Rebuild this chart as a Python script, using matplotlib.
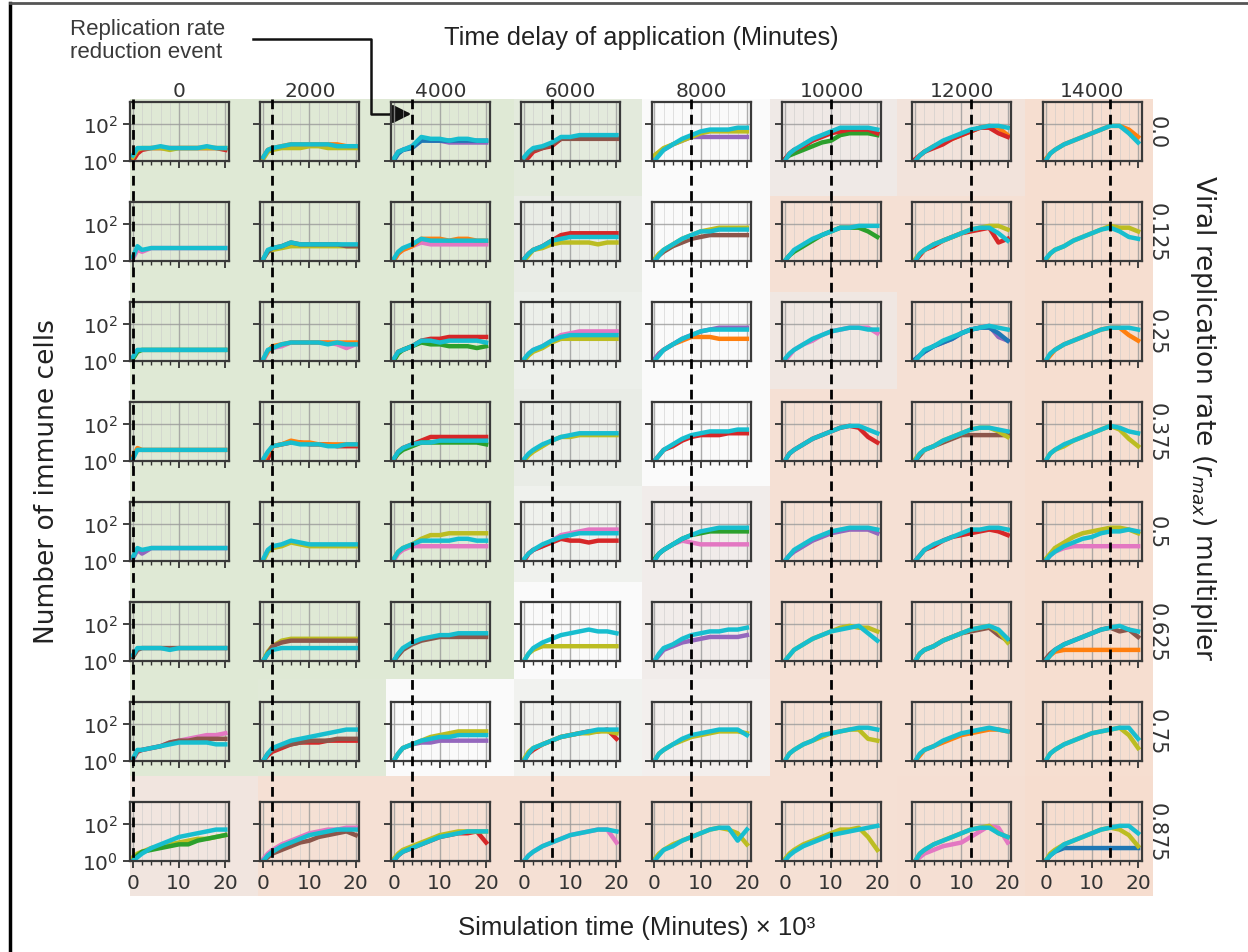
import numpy as np
import matplotlib.pyplot as plt
import matplotlib.transforms as mtransforms
from matplotlib.colors import LinearSegmentedColormap
from matplotlib.lines import Line2D
from matplotlib.ticker import NullLocator, MultipleLocator

W, H = 1248, 953  # figure size in pixels

delays = [0, 2000, 4000, 6000, 8000, 10000, 12000, 14000]
multipliers = ['0.0', '0.125', '0.25', '0.375', '0.5', '0.625', '0.75', '0.875']
time_k = [0, 1, 2, 4, 6, 8, 10, 12, 14, 16, 18, 20]  # minutes x 10^3

# background shade of each cell: 0 = green, 0.5 = white, 1 = orange
bg_score = [
    [0.0, 0.0, 0.0, 0.15, 0.5, 0.65, 0.8, 0.95],
    [0.0, 0.0, 0.0, 0.35, 0.5, 0.9, 0.9, 0.95],
    [0.0, 0.0, 0.0, 0.38, 0.5, 0.7, 0.9, 0.95],
    [0.0, 0.0, 0.0, 0.35, 0.5, 0.9, 0.9, 0.95],
    [0.0, 0.0, 0.0, 0.40, 0.62, 0.9, 0.9, 0.95],
    [0.0, 0.0, 0.0, 0.50, 0.62, 0.9, 0.9, 0.95],
    [0.0, 0.05, 0.5, 0.42, 0.6, 0.9, 0.9, 0.95],
    [0.75, 0.9, 0.9, 0.9, 0.9, 0.9, 0.92, 0.97],
]

# runs: (tab10 colour index, log10(immune cells) x 10 at time_k), one list per delay
runs_r0 = [
    [(3, [0, 4, 6, 7, 7, 7, 7, 7, 7, 7, 7, 6]), (8, [2, 6, 7, 7, 7, 6, 7, 7, 7, 7, 7, 7]), (9, [3, 7, 7, 7, 8, 7, 7, 7, 7, 8, 7, 7])],
    [(8, [1, 5, 6, 7, 7, 7, 8, 8, 7, 7, 7, 7]), (1, [2, 6, 7, 8, 9, 9, 9, 9, 9, 9, 8, 8]), (9, [2, 6, 7, 8, 9, 9, 9, 9, 9, 8, 8, 8])],
    [(4, [1, 5, 6, 8, 12, 11, 11, 10, 10, 10, 10, 10]), (0, [0, 4, 6, 7, 11, 11, 11, 11, 11, 11, 11, 11]), (9, [1, 5, 6, 8, 13, 12, 12, 11, 12, 12, 11, 11])],
    [(3, [0, 2, 5, 7, 8, 12, 12, 12, 12, 12, 12, 12]), (5, [1, 4, 6, 7, 9, 12, 12, 12, 12, 12, 12, 12]), (9, [2, 5, 7, 8, 10, 13, 13, 14, 14, 14, 14, 14])],
    [(4, [1, 4, 6, 9, 11, 13, 13, 13, 13, 13, 13, 13]), (8, [3, 5, 7, 9, 11, 13, 15, 16, 16, 16, 16, 16]), (9, [0, 3, 6, 9, 12, 14, 16, 17, 17, 17, 18, 18])],
    [(2, [1, 3, 4, 6, 8, 10, 11, 14, 15, 15, 15, 14]), (3, [1, 4, 6, 8, 11, 13, 15, 16, 17, 17, 17, 15]), (9, [0, 4, 6, 9, 12, 14, 16, 18, 18, 18, 18, 17])],
    [(1, [0, 3, 5, 8, 10, 12, 14, 16, 18, 19, 18, 14]), (3, [1, 3, 5, 7, 9, 12, 14, 16, 18, 18, 15, 13]), (9, [0, 3, 5, 8, 11, 13, 15, 17, 18, 19, 19, 18])],
    [(1, [1, 4, 6, 9, 11, 13, 15, 17, 19, 19, 17, 13]), (9, [0, 4, 6, 9, 11, 13, 15, 17, 19, 19, 15, 10])],
]
runs_r1 = [
    [(6, [1, 6, 5, 7, 7, 7, 7, 7, 7, 7, 7, 7]), (9, [2, 8, 6, 7, 7, 7, 7, 7, 7, 7, 7, 7])],
    [(8, [1, 5, 6, 7, 8, 8, 8, 8, 8, 8, 8, 8]), (5, [1, 5, 7, 8, 10, 9, 9, 9, 9, 9, 8, 8]), (9, [1, 6, 7, 8, 10, 9, 9, 9, 9, 9, 9, 9])],
    [(6, [0, 4, 6, 8, 10, 9, 9, 9, 9, 9, 9, 9]), (1, [0, 4, 6, 8, 12, 12, 12, 11, 12, 12, 11, 11]), (9, [1, 5, 7, 9, 12, 11, 11, 11, 11, 11, 11, 11])],
    [(3, [1, 4, 6, 8, 11, 14, 15, 15, 15, 15, 15, 15]), (8, [0, 3, 6, 7, 9, 10, 10, 10, 10, 9, 10, 10]), (9, [1, 4, 6, 8, 11, 12, 13, 13, 13, 13, 13, 13])],
    [(5, [0, 3, 5, 8, 10, 12, 13, 14, 14, 14, 14, 14]), (8, [1, 4, 6, 9, 12, 14, 16, 17, 18, 18, 18, 18]), (9, [0, 3, 6, 9, 12, 14, 16, 16, 17, 17, 17, 17])],
    [(2, [0, 3, 5, 8, 11, 14, 16, 18, 18, 18, 16, 13]), (9, [0, 3, 6, 9, 12, 14, 16, 18, 18, 19, 19, 19])],
    [(3, [0, 3, 6, 8, 11, 13, 15, 16, 17, 18, 10, 12]), (8, [1, 4, 6, 9, 11, 13, 15, 17, 18, 19, 19, 17]), (9, [0, 4, 6, 9, 11, 13, 15, 17, 18, 18, 15, 11])],
    [(8, [0, 4, 6, 8, 11, 13, 15, 17, 19, 18, 18, 16]), (9, [1, 4, 6, 8, 11, 13, 15, 17, 18, 16, 13, 12])],
]
runs_r2 = [
    [(2, [1, 5, 6, 6, 6, 6, 6, 6, 6, 6, 6, 6]), (9, [2, 6, 6, 6, 6, 6, 6, 6, 6, 6, 6, 6])],
    [(6, [0, 5, 7, 8, 10, 10, 10, 10, 10, 9, 7, 9]), (1, [1, 5, 8, 9, 10, 10, 10, 10, 10, 10, 10, 10]), (9, [1, 6, 7, 9, 10, 10, 10, 10, 9, 10, 9, 9])],
    [(3, [0, 5, 6, 8, 11, 12, 12, 13, 13, 13, 13, 13]), (2, [0, 4, 6, 8, 10, 9, 9, 8, 8, 8, 7, 8]), (9, [1, 5, 6, 8, 11, 11, 10, 11, 11, 11, 11, 10])],
    [(6, [0, 4, 6, 8, 11, 14, 15, 16, 16, 16, 16, 16]), (8, [0, 3, 5, 7, 10, 12, 12, 12, 12, 12, 12, 12]), (9, [1, 4, 6, 8, 11, 13, 14, 14, 14, 14, 14, 14])],
    [(1, [0, 4, 6, 9, 11, 13, 13, 13, 12, 12, 12, 12]), (4, [1, 4, 6, 9, 12, 14, 16, 17, 18, 18, 18, 18]), (9, [0, 3, 6, 9, 12, 14, 16, 17, 17, 17, 17, 17])],
    [(6, [0, 3, 6, 9, 11, 14, 16, 17, 18, 18, 18, 15]), (9, [1, 4, 6, 9, 12, 14, 16, 17, 18, 18, 17, 17])],
    [(4, [0, 3, 5, 8, 10, 12, 15, 17, 18, 19, 13, 11]), (0, [1, 3, 5, 8, 10, 12, 15, 17, 18, 18, 15, 11]), (9, [0, 3, 6, 8, 11, 13, 15, 17, 18, 19, 18, 17])],
    [(1, [0, 3, 6, 9, 11, 13, 15, 17, 18, 18, 14, 11]), (9, [0, 4, 6, 9, 11, 13, 15, 17, 18, 18, 18, 17])],
]
runs_r3 = [
    [(1, [2, 7, 6, 6, 6, 6, 6, 6, 6, 6, 6, 6]), (9, [1, 6, 6, 6, 6, 6, 6, 6, 6, 6, 6, 6])],
    [(3, [0, 1, 8, 9, 10, 10, 9, 9, 9, 8, 8, 8]), (1, [0, 4, 8, 9, 11, 10, 10, 9, 9, 9, 9, 9]), (9, [1, 5, 8, 9, 10, 9, 9, 9, 8, 8, 9, 9])],
    [(3, [0, 5, 7, 9, 11, 13, 13, 13, 13, 13, 13, 13]), (2, [1, 4, 6, 8, 10, 10, 10, 10, 10, 10, 10, 9]), (9, [1, 5, 7, 9, 10, 10, 11, 11, 11, 11, 11, 11])],
    [(8, [0, 3, 5, 8, 11, 13, 13, 14, 14, 14, 14, 14]), (9, [1, 4, 6, 9, 11, 13, 14, 15, 15, 15, 15, 15])],
    [(3, [0, 3, 6, 8, 11, 13, 14, 14, 14, 15, 15, 15]), (9, [0, 3, 6, 9, 12, 14, 15, 16, 16, 16, 17, 17])],
    [(3, [0, 4, 6, 9, 12, 14, 16, 18, 19, 18, 13, 10]), (9, [0, 4, 6, 9, 12, 14, 16, 18, 19, 19, 17, 15])],
    [(5, [0, 3, 6, 8, 10, 12, 14, 14, 14, 14, 14, 14]), (8, [1, 4, 6, 8, 11, 13, 15, 17, 18, 18, 16, 13]), (9, [0, 4, 6, 8, 11, 13, 15, 17, 18, 18, 17, 16])],
    [(8, [0, 4, 6, 8, 11, 13, 15, 17, 19, 17, 12, 8]), (9, [0, 4, 6, 9, 11, 13, 15, 17, 19, 18, 16, 15])],
]
runs_r4 = [
    [(4, [1, 6, 4, 7, 7, 7, 7, 7, 7, 7, 7, 7]), (9, [2, 7, 6, 7, 7, 7, 7, 7, 7, 7, 7, 7])],
    [(8, [0, 5, 7, 8, 10, 9, 8, 8, 8, 8, 8, 8]), (9, [1, 6, 8, 9, 11, 10, 9, 9, 9, 9, 9, 9])],
    [(6, [0, 4, 6, 8, 8, 8, 8, 8, 8, 8, 8, 8]), (8, [1, 5, 7, 9, 12, 14, 14, 15, 15, 15, 15, 15]), (9, [1, 5, 7, 9, 11, 11, 11, 11, 12, 12, 11, 11])],
    [(6, [0, 4, 6, 8, 11, 14, 15, 16, 17, 17, 17, 17]), (3, [0, 4, 6, 8, 10, 12, 11, 11, 10, 11, 11, 11]), (9, [1, 4, 6, 9, 11, 13, 14, 15, 15, 15, 15, 15])],
    [(6, [0, 4, 6, 9, 11, 10, 9, 9, 9, 9, 9, 9]), (2, [1, 4, 6, 9, 12, 14, 15, 16, 16, 16, 16, 16]), (9, [0, 4, 6, 9, 12, 14, 16, 17, 18, 18, 18, 18])],
    [(4, [0, 3, 5, 8, 11, 13, 15, 16, 17, 17, 17, 15]), (9, [0, 3, 6, 9, 12, 14, 16, 17, 18, 18, 18, 17])],
    [(3, [0, 3, 6, 8, 11, 13, 14, 15, 16, 17, 16, 14]), (9, [0, 3, 6, 9, 11, 13, 15, 17, 17, 18, 18, 17])],
    [(6, [0, 3, 5, 7, 8, 8, 8, 8, 8, 8, 8, 8]), (8, [1, 4, 7, 10, 13, 15, 16, 17, 18, 18, 17, 15]), (9, [0, 3, 5, 8, 10, 12, 13, 15, 16, 16, 17, 16])],
]
runs_r5 = [
    [(5, [2, 6, 7, 7, 7, 7, 7, 7, 7, 7, 7, 7]), (9, [3, 7, 7, 7, 7, 6, 7, 7, 7, 7, 7, 7])],
    [(8, [0, 5, 8, 11, 12, 12, 12, 12, 12, 12, 12, 12]), (5, [0, 4, 8, 10, 11, 11, 11, 11, 11, 11, 11, 11]), (9, [0, 4, 6, 7, 7, 7, 7, 7, 7, 7, 7, 7])],
    [(5, [0, 3, 6, 9, 11, 12, 13, 13, 13, 13, 13, 13]), (9, [0, 4, 7, 10, 12, 13, 14, 14, 15, 15, 15, 15])],
    [(8, [0, 4, 6, 8, 8, 8, 8, 8, 8, 8, 8, 8]), (9, [0, 4, 7, 10, 12, 14, 15, 16, 17, 16, 16, 15])],
    [(4, [0, 3, 6, 8, 10, 11, 12, 13, 13, 13, 13, 14]), (9, [0, 4, 7, 9, 12, 14, 15, 16, 16, 17, 17, 18])],
    [(8, [0, 3, 6, 9, 12, 14, 16, 18, 19, 18, 18, 16]), (9, [0, 3, 6, 9, 12, 14, 16, 17, 18, 19, 15, 11])],
    [(5, [0, 4, 6, 8, 11, 13, 15, 16, 17, 18, 14, 11]), (8, [0, 4, 6, 8, 11, 13, 15, 17, 18, 19, 16, 10]), (9, [0, 4, 6, 8, 11, 13, 15, 17, 18, 19, 17, 12])],
    [(1, [0, 3, 5, 6, 6, 6, 6, 6, 6, 6, 6, 6]), (5, [1, 4, 6, 9, 11, 13, 15, 17, 18, 16, 17, 13]), (9, [0, 3, 6, 9, 11, 13, 15, 17, 18, 19, 17, 16])],
]
runs_r6 = [
    [(6, [0, 5, 6, 7, 8, 10, 11, 12, 13, 14, 14, 15]), (5, [1, 5, 6, 7, 8, 10, 11, 11, 12, 12, 12, 12]), (9, [1, 6, 6, 7, 8, 9, 10, 10, 10, 10, 9, 9])],
    [(3, [0, 3, 5, 7, 9, 10, 10, 10, 11, 11, 11, 11]), (5, [0, 4, 6, 8, 9, 10, 11, 11, 11, 12, 12, 12]), (9, [0, 4, 7, 9, 11, 12, 13, 14, 15, 16, 17, 17])],
    [(4, [0, 4, 7, 9, 10, 10, 11, 11, 11, 11, 11, 11]), (8, [0, 4, 7, 9, 11, 13, 14, 15, 16, 16, 16, 16]), (9, [0, 4, 7, 9, 11, 12, 13, 13, 14, 14, 14, 14])],
    [(3, [0, 4, 6, 9, 11, 13, 14, 15, 16, 16, 17, 12]), (8, [1, 5, 7, 9, 11, 13, 14, 15, 15, 16, 16, 15]), (9, [0, 4, 7, 9, 11, 13, 14, 15, 16, 17, 17, 17])],
    [(8, [0, 4, 6, 9, 11, 13, 14, 15, 16, 16, 16, 15]), (9, [0, 4, 6, 9, 12, 14, 15, 16, 17, 17, 17, 14])],
    [(8, [0, 4, 6, 9, 11, 13, 15, 16, 17, 17, 12, 11]), (9, [0, 4, 6, 9, 11, 14, 15, 16, 17, 18, 18, 17])],
    [(1, [0, 3, 6, 8, 10, 12, 14, 15, 16, 17, 17, 16]), (9, [0, 4, 6, 8, 11, 13, 15, 16, 17, 18, 17, 16])],
    [(8, [0, 4, 6, 9, 11, 13, 15, 16, 17, 18, 14, 7]), (9, [0, 4, 6, 9, 11, 13, 15, 16, 17, 18, 18, 12])],
]
runs_r7 = [
    [(8, [2, 4, 5, 7, 8, 9, 10, 11, 12, 12, 13, 14]), (2, [0, 3, 5, 6, 7, 8, 9, 9, 11, 12, 13, 14]), (9, [0, 2, 4, 7, 9, 11, 13, 14, 15, 16, 17, 17])],
    [(5, [0, 2, 4, 6, 8, 10, 11, 13, 14, 15, 16, 14]), (6, [1, 4, 6, 9, 11, 13, 15, 16, 17, 17, 18, 18]), (9, [0, 3, 5, 8, 10, 12, 14, 15, 16, 17, 17, 17])],
    [(3, [0, 3, 5, 7, 9, 11, 13, 14, 15, 15, 16, 10]), (8, [1, 4, 6, 8, 10, 12, 14, 15, 16, 16, 16, 16]), (9, [0, 3, 5, 7, 9, 11, 13, 14, 15, 16, 16, 16])],
    [(6, [0, 3, 5, 8, 10, 12, 14, 15, 16, 17, 17, 10]), (9, [0, 3, 5, 8, 10, 12, 14, 15, 16, 17, 17, 16])],
    [(8, [1, 4, 6, 9, 11, 13, 15, 17, 18, 17, 15, 9]), (9, [0, 3, 6, 8, 11, 13, 15, 17, 18, 18, 11, 17])],
    [(8, [1, 4, 6, 9, 11, 13, 15, 17, 17, 18, 13, 6]), (9, [0, 3, 5, 8, 10, 12, 14, 15, 16, 17, 18, 19])],
    [(6, [0, 2, 4, 6, 8, 9, 10, 13, 16, 19, 18, 10]), (8, [0, 4, 6, 9, 11, 13, 15, 17, 18, 19, 15, 13]), (9, [0, 4, 6, 9, 11, 13, 15, 17, 18, 18, 15, 13])],
    [(0, [0, 3, 5, 7, 7, 7, 7, 7, 7, 7, 7, 7]), (8, [0, 4, 6, 9, 11, 13, 15, 17, 18, 17, 14, 8]), (9, [0, 3, 5, 9, 11, 13, 15, 17, 18, 19, 19, 15])],
]
runs = [runs_r0, runs_r1, runs_r2, runs_r3, runs_r4, runs_r5, runs_r6, runs_r7]

# layout in pixels
left0, dx, pw = 130, 130.4, 99
top0, dy, ph = 103, 100, 59
col_edges = [130 + 127.9 * j for j in range(9)]
row_edges = [100, 197, 293, 390, 487, 583, 680, 777, 897]

fig = plt.figure(figsize=(W / 100, H / 100), dpi=100)

# background layer in pixel coordinates
bg = fig.add_axes([0, 0, 1, 1])
bg.set_xlim(0, W)
bg.set_ylim(H, 0)
bg.axis('off')
cmap = LinearSegmentedColormap.from_list('cells', [
    (0.0, '#dfe9d5'), (0.35, '#e9ece6'), (0.5, '#fafafa'), (0.65, '#efe9e6'), (1.0, '#f7dccd')])
bg.pcolormesh(col_edges, row_edges, np.array(bg_score), cmap=cmap, vmin=0, vmax=1)

# frame of the screenshot
bg.plot([10, 10], [4, H], color='black', lw=2.5)
bg.plot([10, W], [4, 4], color='#555555', lw=2)

sans = 'Liberation Sans'
bg.text(641, 38, 'Time delay of application (Minutes)', ha='center', va='center',
        fontsize=18.3, family=sans, color='#222222')
bg.text(637, 928, 'Simulation time (Minutes) \u00d7 10\u00b3', ha='center', va='center',
        fontsize=18.5, family=sans, color='#222222')
bg.text(47, 482, 'Number of immune cells', rotation=90, ha='center', va='center',
        fontsize=19, family='DejaVu Sans', color='#222222')
bg.text(1203, 418, 'Viral replication rate ($r_{max}$) multiplier', rotation=-90,
        ha='center', va='center', fontsize=19, family='DejaVu Sans', color='#222222')
bg.text(70, 41, 'Replication rate\nreduction event', ha='left', va='center',
        fontsize=16, family=sans, color='#3a3a3a', linespacing=1.15)

# arrow pointing at the event line
bg.plot([253, 371, 371, 392], [40, 40, 115, 115], color='#111111', lw=1.8)
bg.annotate('', xy=(414, 115), xytext=(388, 115),
            arrowprops=dict(arrowstyle='-|>', color='#111111', lw=1.8, mutation_scale=28))

xmin, xmax = -0.6, 20.8
for i in range(8):
    for j in range(8):
        l = left0 + dx * j
        t = top0 + dy * i
        ax = fig.add_axes([l / W, 1 - (t + ph) / H, pw / W, ph / H])
        ax.set_facecolor('none')
        for c, vals in runs[i][j]:
            ax.plot(time_k, 10 ** (np.array(vals) / 10), color=f'C{c}', lw=3.2)
        ax.set_yscale('log')
        ax.set_xlim(xmin, xmax)
        ax.set_ylim(1, 1550)
        ax.set_yticks([1, 100])
        ax.yaxis.set_minor_locator(NullLocator())
        ax.set_xticks([0, 10, 20])
        ax.xaxis.set_minor_locator(MultipleLocator(2))
        ax.grid(True, which='major', color='#9a9a9a', lw=1.0, alpha=0.8)
        ax.grid(True, which='minor', axis='x', color='#c8c8c8', lw=0.6, alpha=0.6)
        ax.tick_params(which='major', length=5, width=1.3, color='#333333',
                       labelsize=14.5, labelcolor='#333333')
        ax.tick_params(which='minor', length=3, width=1.0, color='#333333')
        ax.tick_params(labelleft=(j == 0), labelbottom=(i == 7))
        for s in ax.spines.values():
            s.set_color('#3a3a3a')
            s.set_linewidth(1.6)
        if i == 0:
            ax.set_title(str(delays[j]), fontsize=14.5, color='#333333', pad=4)
        if j == 7:
            ax.text(1.15, 0.5, multipliers[i], rotation=-90, transform=ax.transAxes,
                    ha='center', va='center', fontsize=15, color='#333333')
        if i == 0:
            # dashed event line running down the whole column
            tr = mtransforms.blended_transform_factory(ax.transData, fig.transFigure)
            fig.add_artist(Line2D([delays[j] / 1000] * 2, [1 - 100 / H, 1 - 862 / H],
                                  transform=tr, color='black', lw=2,
                                  linestyle=(0, (3.5, 2)), zorder=5))

fig.savefig('out.png', dpi=100)
